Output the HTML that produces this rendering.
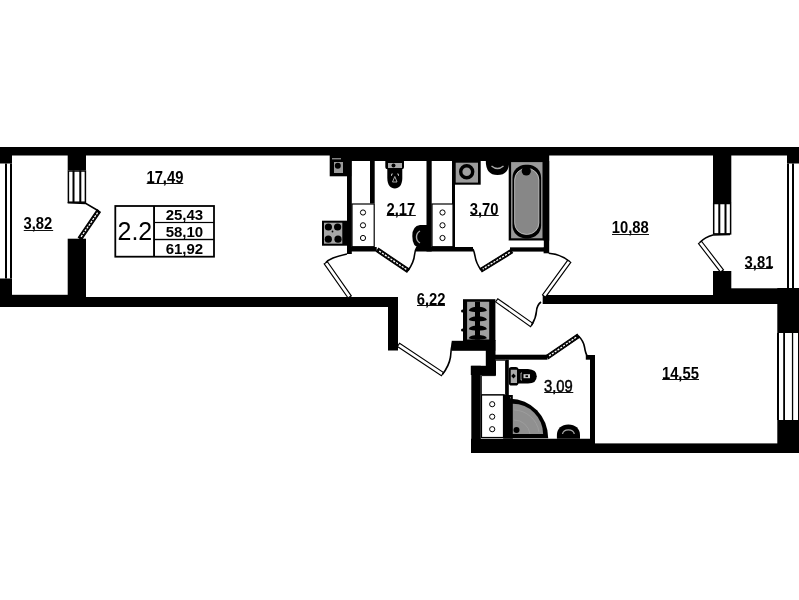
<!DOCTYPE html>
<html><head><meta charset="utf-8"><style>
html,body{margin:0;padding:0;background:#fff;overflow:hidden;}
svg{display:block;will-change:transform;}
.n{font-family:"Liberation Sans",sans-serif;font-weight:bold;font-size:16px;fill:#000;}
.n2{font-family:"Liberation Sans",sans-serif;font-weight:bold;font-size:15px;fill:#000;}
.n3{font-family:"Liberation Sans",sans-serif;font-size:16px;fill:#000;stroke:#000;stroke-width:0.45px;}
.big{font-family:"Liberation Sans",sans-serif;font-size:25px;fill:#000;}
</style></head><body>
<svg width="799" height="600" viewBox="0 0 799 600">
<rect width="799" height="600" fill="#fff"/>
<rect x="0" y="147" width="799" height="8.5" fill="#000"/>
<rect x="330" y="155" width="219" height="6" fill="#000"/>
<rect x="0" y="147" width="12" height="16.5" fill="#000"/>
<rect x="5" y="163.5" width="2" height="115.0" fill="#000"/>
<rect x="10" y="163.5" width="2" height="115.0" fill="#000"/>
<rect x="0" y="278.5" width="12" height="28.5" fill="#000"/>
<rect x="0" y="294.8" width="68" height="12.2" fill="#000"/>
<rect x="68" y="297" width="330" height="10" fill="#000"/>
<rect x="67.7" y="147" width="18.3" height="23.5" fill="#000"/>
<rect x="67.7" y="238.7" width="18.3" height="68.3" fill="#000"/>
<rect x="67.7" y="170.5" width="18.3" height="32.2" fill="#fff"/>
<rect x="68.4" y="171" width="17" height="31.2" fill="none" stroke="#000" stroke-width="1.5"/>
<rect x="72.5" y="170.5" width="2.0" height="32.2" fill="#000"/>
<rect x="79.3" y="170.5" width="2.0" height="32.2" fill="#000"/>
<path d="M67.7,202.7 L86,203.5 L98.7,211" fill="none" stroke="#000" stroke-width="1.6"/>
<polygon points="81.6,239.6 100.3,212.1 97.1,209.9 78.4,237.4" fill="#000" stroke="#000" stroke-width="1.15"/>
<line x1="81.1" y1="236.8" x2="97.6" y2="212.7" stroke="#fff" stroke-width="1.3" stroke-dasharray="2.2,1.2"/>
<rect x="388" y="297" width="10" height="53.5" fill="#000"/>
<rect x="463" y="299.2" width="32.4" height="41.8" fill="#000"/>
<rect x="451.7" y="340.8" width="43.6" height="10.0" fill="#000"/>
<rect x="485.8" y="340" width="9.7" height="35" fill="#000"/>
<rect x="470.8" y="365.8" width="25.0" height="9.2" fill="#000"/>
<rect x="471.3" y="365.8" width="9.5" height="87.2" fill="#000"/>
<rect x="495" y="354.7" width="52.5" height="5.0" fill="#000"/>
<rect x="590" y="355" width="5" height="88" fill="#000"/>
<rect x="471" y="438.75" width="124" height="14.25" fill="#000"/>
<rect x="595" y="443.4" width="204" height="9.6" fill="#000"/>
<rect x="329.7" y="155" width="21.6" height="21.3" fill="#000"/>
<rect x="347" y="155" width="4.8" height="99" fill="#000"/>
<rect x="349.3" y="247" width="27.4" height="4.5" fill="#000"/>
<rect x="370" y="161" width="4.7" height="42.5" fill="#000"/>
<rect x="426.5" y="161" width="5.2" height="90.5" fill="#000"/>
<rect x="416" y="247" width="57" height="4.5" fill="#000"/>
<rect x="452" y="161" width="3" height="86" fill="#000"/>
<rect x="510" y="247.2" width="39" height="4.4" fill="#000"/>
<rect x="543.6" y="155" width="5.6" height="98.3" fill="#000"/>
<rect x="542.7" y="295" width="256.3" height="9" fill="#000"/>
<rect x="713" y="288.3" width="86" height="15.7" fill="#000"/>
<rect x="713" y="147" width="18.3" height="56" fill="#000"/>
<rect x="713" y="203" width="18.3" height="31.4" fill="#fff"/>
<rect x="713.7" y="203.5" width="16.9" height="30.4" fill="none" stroke="#000" stroke-width="1.5"/>
<rect x="718.3" y="203" width="2.0" height="31.4" fill="#000"/>
<rect x="724.5" y="203" width="2.0" height="31.4" fill="#000"/>
<rect x="713" y="271" width="18.3" height="33" fill="#000"/>
<path d="M730,234.4 L713,235 Q705,237 700,242.4" fill="none" stroke="#000" stroke-width="1.6"/>
<polygon points="723.5,269.8 701.5,241.2 698.5,243.6 720.5,272.2" fill="#fff" stroke="#000" stroke-width="1.15"/>
<rect x="787" y="147" width="12" height="16.5" fill="#000"/>
<rect x="787" y="163.5" width="2" height="124.8" fill="#000"/>
<rect x="792" y="163.5" width="2" height="124.8" fill="#000"/>
<rect x="777.3" y="288" width="21.7" height="45" fill="#000"/>
<rect x="777" y="333" width="2" height="87" fill="#000"/>
<rect x="783.2" y="333" width="1.8" height="87" fill="#000"/>
<rect x="791.9" y="333" width="1.3" height="87" fill="#000"/>
<rect x="798" y="333" width="1" height="87" fill="#000"/>
<rect x="777.3" y="420" width="21.7" height="33" fill="#000"/>
<path d="M347,254 Q338,256 333,258 Q328,260 325.8,262.8" fill="none" stroke="#000" stroke-width="1.6"/>
<polygon points="351.3,295.8 327.4,261.7 324.2,263.9 348.1,298.0" fill="#fff" stroke="#000" stroke-width="1.15"/>
<polygon points="376.4,251.6 406.9,272.1 409.1,268.9 378.6,248.4" fill="#000" stroke="#000" stroke-width="1.15"/>
<line x1="379.2" y1="251.1" x2="406.3" y2="269.4" stroke="#fff" stroke-width="1.3" stroke-dasharray="2.2,1.2"/>
<path d="M408,270.7 Q414,262 414.5,255 Q415,250 416.5,248" fill="none" stroke="#000" stroke-width="1.6"/>
<polygon points="510.5,249.7 480.0,268.6 482.0,271.8 512.5,252.9" fill="#000" stroke="#000" stroke-width="1.15"/>
<line x1="509.8" y1="252.4" x2="482.7" y2="269.1" stroke="#fff" stroke-width="1.3" stroke-dasharray="2.2,1.2"/>
<path d="M481,270 Q476,263 475,256 Q474,251 473,249" fill="none" stroke="#000" stroke-width="1.6"/>
<path d="M548.7,253.3 Q560,254 569.3,261.3" fill="none" stroke="#000" stroke-width="1.6"/>
<polygon points="567.8,260.2 542.5,294.9 545.5,297.1 570.8,262.4" fill="#fff" stroke="#000" stroke-width="1.15"/>
<polygon points="495.6,301.9 530.6,326.6 532.8,323.4 497.8,298.7" fill="#fff" stroke="#000" stroke-width="1.15"/>
<path d="M531.7,325 Q536,318 536.5,311 Q537,305 541,302" fill="none" stroke="#000" stroke-width="1.6"/>
<polygon points="397.4,346.4 441.4,375.8 443.6,372.6 399.6,343.2" fill="#fff" stroke="#000" stroke-width="1.15"/>
<path d="M442.5,374.2 Q449,366 450.5,357 Q451,349 452.5,342.5" fill="none" stroke="#000" stroke-width="1.6"/>
<polygon points="548.6,358.6 579.4,337.4 577.2,334.2 546.4,355.4" fill="#000" stroke="#000" stroke-width="1.15"/>
<line x1="549.1" y1="355.9" x2="576.7" y2="336.9" stroke="#fff" stroke-width="1.3" stroke-dasharray="2.2,1.2"/>
<path d="M578.3,335.8 Q583.5,341 584.5,347 Q585.5,353.5 587.5,356.5" fill="none" stroke="#000" stroke-width="1.6"/>
<rect x="585.8" y="355" width="9.2" height="4.7" fill="#000"/>
<rect x="334" y="162" width="9" height="11" fill="#9a9a9a"/>
<circle cx="337.8" cy="165.8" r="3" fill="#000"/>
<rect x="332" y="158.3" width="9" height="1.0" fill="#bbb"/>
<rect x="322" y="220.7" width="25" height="25.0" fill="#000"/>
<rect x="324" y="222.7" width="18.3" height="21.0" fill="#a6a6a6"/>
<circle cx="328.4" cy="227" r="3.6" fill="#000"/>
<circle cx="337.6" cy="227" r="3.6" fill="#000"/>
<circle cx="328.3" cy="239.2" r="3.6" fill="#000"/>
<circle cx="338" cy="239.2" r="3.6" fill="#000"/>
<circle cx="332.5" cy="231.5" r="0.9" fill="#000"/>
<rect x="352" y="204" width="22.2" height="42.7" fill="#fff" stroke="#000" stroke-width="1.2"/>
<circle cx="363" cy="225.3" r="2.6" fill="none" stroke="#000" stroke-width="1"/>
<circle cx="363" cy="238" r="2.6" fill="none" stroke="#000" stroke-width="1"/>
<circle cx="363" cy="212.5" r="2.6" fill="none" stroke="#000" stroke-width="1"/>
<rect x="432" y="204" width="21" height="42.7" fill="#fff" stroke="#000" stroke-width="1.2"/>
<circle cx="442.5" cy="212.5" r="2.6" fill="none" stroke="#000" stroke-width="1"/>
<circle cx="442.5" cy="225.3" r="2.6" fill="none" stroke="#000" stroke-width="1"/>
<circle cx="442.5" cy="238" r="2.6" fill="none" stroke="#000" stroke-width="1"/>
<rect x="385.3" y="159" width="18.7" height="10.3" rx="2.5" fill="#000"/>
<rect x="388" y="163" width="14" height="5" fill="#aaa"/>
<circle cx="393.5" cy="165.5" r="2" fill="#000"/>
<path d="M387.3,168.5 L402.3,168.5 L402.3,178 C402.3,185 399,188.5 394.8,188.5 C390.6,188.5 387.3,185 387.3,178 Z" fill="#000"/>
<path d="M391.5,176 L391.5,174 L393,174 M397,174 L398.5,174 L398.5,176" stroke="#ccc" stroke-width="0.8" fill="none"/>
<path d="M392.5,182 L394.8,176.5 L397,182 Z" fill="none" stroke="#bbb" stroke-width="0.9"/>
<path d="M427,225 L420,225 Q412.3,226 412.3,236 Q412.3,247.5 420,247.5 L427,247.5 Z" fill="#000"/>
<path d="M420,231 Q416.5,233 416.5,237 Q416.5,241 420,243" stroke="#aaa" stroke-width="1.4" fill="none"/>
<rect x="452" y="161" width="28.7" height="23.7" fill="#000"/>
<rect x="455.7" y="162.7" width="22.3" height="19.9" fill="#9c9c9c"/>
<circle cx="466.7" cy="171.8" r="6" fill="none" stroke="#000" stroke-width="3.4"/>
<circle cx="466.7" cy="171.8" r="3.3" fill="#a0a0a0"/>
<path d="M485.8,161 L509.3,161 Q509.3,175 497.5,175 Q485.8,175 485.8,161 Z" fill="#000"/>
<path d="M491.5,166 Q497.5,171 503.5,166" stroke="#aaa" stroke-width="1.4" fill="none"/>
<rect x="508.7" y="161" width="40.5" height="79.7" fill="#000"/>
<rect x="511.1" y="162.1" width="31.4" height="76.2" fill="#9a9a9a"/>
<rect x="512.5" y="164.8" width="28.6" height="73.6" rx="13" fill="#000"/>
<rect x="514.6" y="168.5" width="24.3" height="65.9" rx="11.5" fill="#878787" stroke="#ddd" stroke-width="0.7"/>
<circle cx="526.3" cy="171" r="4.6" fill="#000"/>
<rect x="508.7" y="240.7" width="34.9" height="6.5" fill="#fff"/>
<rect x="467.1" y="301.75" width="22.1" height="37.75" fill="#a0a0a0"/>
<rect x="475" y="301.75" width="5" height="37.75" fill="#000"/>
<path d="M468.8,310.79999999999995 C469.5,305.4 486.1,305.4 486.8,310.79999999999995 C484.5,312.7 471.1,312.7 468.8,310.79999999999995 Z" fill="#000"/>
<path d="M468.8,320.0 C469.5,315.0 486.1,315.0 486.8,320.0 C484.5,321.90000000000003 471.1,321.90000000000003 468.8,320.0 Z" fill="#000"/>
<path d="M468.8,329.2 C469.5,324.2 486.1,324.2 486.8,329.2 C484.5,331.1 471.1,331.1 468.8,329.2 Z" fill="#000"/>
<path d="M468.8,338.2 C469.5,333.79999999999995 486.1,333.79999999999995 486.8,338.2 C484.5,340.1 471.1,340.1 468.8,338.2 Z" fill="#000"/>
<circle cx="462.5" cy="311" r="1.5" fill="#000"/><circle cx="462.5" cy="330" r="1.5" fill="#000"/>
<path d="M481.3,375.6 L495.5,375.6 L495.5,360.2 L505.6,360.2 L505.6,394.8 L481.3,394.8 Z" fill="#fff" stroke="#000" stroke-width="1"/>
<rect x="481.5" y="395" width="22" height="42.5" fill="#fff" stroke="#000" stroke-width="1.2"/>
<circle cx="492.2" cy="404.2" r="2.6" fill="none" stroke="#000" stroke-width="1"/>
<circle cx="492.2" cy="416.7" r="2.6" fill="none" stroke="#000" stroke-width="1"/>
<circle cx="492.2" cy="429.2" r="2.6" fill="none" stroke="#000" stroke-width="1"/>
<rect x="506" y="359.7" width="2.8" height="40.3" fill="#000"/>
<rect x="503.2" y="395" width="9.6" height="43.75" fill="#000"/>
<line x1="510.5" y1="397" x2="510.5" y2="437" stroke="#aaa" stroke-width="0.6" stroke-dasharray="1.5,2"/>
<rect x="508.75" y="367" width="9.75" height="18.5" rx="2.8" fill="#000"/>
<rect x="510.75" y="369.75" width="6.25" height="13.25" fill="#aaa"/>
<path d="M513.5,373.5 L515.8,376 L513.5,378.5 L511.2,376 Z" fill="#000"/>
<path d="M518,369 L528,369 Q536.75,369.5 536.75,376.25 Q536.75,383.5 528,383.5 L518,383.5 Z" fill="#000"/>
<path d="M522,373 L521,373 L521,380 L522,380" stroke="#ccc" stroke-width="0.8" fill="none"/>
<rect x="523.5" y="374.2" width="6.5" height="4.0" fill="#cfcfcf"/>
<rect x="525.5" y="375.3" width="2.5" height="1.8" fill="#000"/>
<path d="M510,398.7 A38.2,39.5 0 0 1 548.2,438.2 L510,438.2 Z" fill="#000"/>
<path d="M512.8,403.8 A30.3,30.2 0 0 1 543.1,434 L512.8,434 Z" fill="#909090"/>
<path d="M514,420 A16,16 0 0 1 530,434 M514,410 A26,26 0 0 1 539,432" stroke="#a0a0a0" stroke-width="0.8" fill="none"/>
<circle cx="516.5" cy="430" r="3" fill="#000"/>
<path d="M556.9,438.8 L556.9,435 C556.9,428.5 561.5,424.4 568.4,424.4 C575.3,424.4 580,428.5 580,435 L580,438.8 Z" fill="#000"/>
<path d="M562.5,434 C563,431 565.5,429.8 568.4,429.8 C571.3,429.8 573.8,431 574.3,434" stroke="#aaa" stroke-width="1.2" fill="none"/>
<rect x="115.3" y="206" width="98.7" height="50.7" fill="none" stroke="#000" stroke-width="1.8"/>
<rect x="153.1" y="206" width="1.9" height="50.7" fill="#000"/>
<rect x="155" y="221.9" width="59" height="1.2" fill="#000"/>
<rect x="155" y="238.8" width="59" height="1.4" fill="#000"/>
<text transform="translate(146.4,183.2) scale(0.925,1)" class="n">17,49</text>
<rect x="146.7" y="183" width="36.6" height="1" fill="#111"/>
<text transform="translate(386.4,214.5) scale(0.925,1)" class="n">2,17</text>
<rect x="386.7" y="215" width="29.1" height="1" fill="#111"/>
<text transform="translate(469.7,214.5) scale(0.925,1)" class="n">3,70</text>
<rect x="470" y="215" width="28.7" height="1" fill="#111"/>
<text transform="translate(611.7,232.5) scale(0.925,1)" class="n">10,88</text>
<rect x="612" y="234" width="37.0" height="1" fill="#111"/>
<text transform="translate(744.6,268.3) scale(0.925,1)" class="n">3,81</text>
<rect x="744.9" y="268" width="27.4" height="1" fill="#111"/>
<text transform="translate(416.7,304.8) scale(0.925,1)" class="n">6,22</text>
<rect x="417" y="305" width="28.0" height="1" fill="#111"/>
<text transform="translate(661.9,378.5) scale(0.925,1)" class="n">14,55</text>
<rect x="662.2" y="379" width="36.8" height="1" fill="#111"/>
<text transform="translate(543.9,391.8) scale(0.925,1)" class="n3">3,09</text>
<rect x="544.2" y="392" width="29.1" height="1" fill="#111"/>
<text transform="translate(23.4,229.3) scale(0.925,1)" class="n">3,82</text>
<rect x="23.75" y="230" width="29.4" height="1" fill="#111"/>
<text x="184.4" y="219.9" class="n2" text-anchor="middle">25,43</text>
<text x="184.4" y="236.8" class="n2" text-anchor="middle">58,10</text>
<text x="184.4" y="253.5" class="n2" text-anchor="middle">61,92</text>
<text x="117.5" y="240.3" class="big">2.2</text>
</svg>
</body></html>
